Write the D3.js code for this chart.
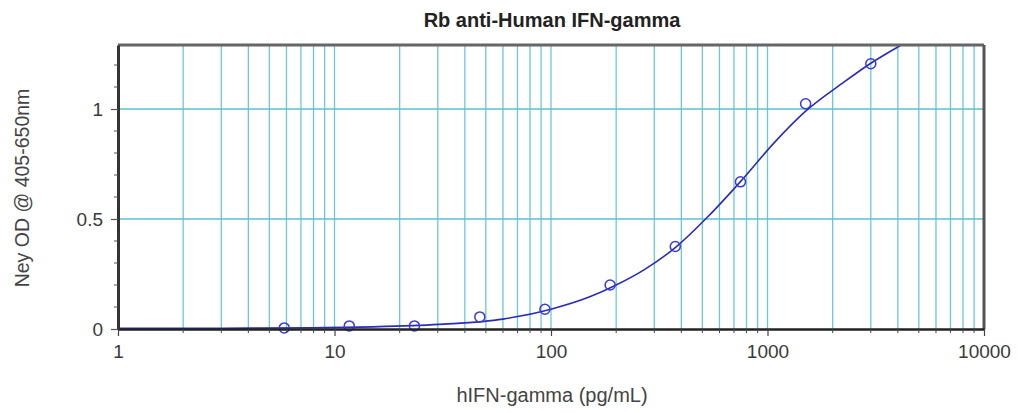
<!DOCTYPE html>
<html>
<head>
<meta charset="utf-8">
<script src="https://cdn.jsdelivr.net/npm/d3@7/dist/d3.min.js"></script>
<style>
  body { margin: 0; background: #fff; }
  text { font-family: "Liberation Sans", Arial, sans-serif; }
</style>
</head>
<body>
<div id="chart"></div>
<script>
// standard concentrations (pg/mL) and measured OD
const concentrations = [5.86, 11.7, 23.4, 46.9, 93.75, 187.5, 375, 750, 1500, 3000];
const odValues = [0.005, 0.014, 0.014, 0.055, 0.09, 0.2, 0.375, 0.669, 1.024, 1.206];

// fitted curve
const curveX = [1, 2, 4, 8, 16, 32, 60, 100, 150, 200, 270, 375, 530, 750, 1070, 1500, 2260, 3000, 4300, 6000];
const curveY = [0.003, 0.003, 0.004, 0.006, 0.011, 0.022, 0.045, 0.09, 0.145, 0.2, 0.27, 0.37, 0.51, 0.67, 0.845, 0.99, 1.123, 1.208, 1.3, 1.38];

const xTickValues = [1, 10, 100, 1000, 10000];
const yTickValues = [0, 0.5, 1];

const width = 1018, height = 413;
const margin = { left: 118, right: 34, top: 45, bottom: 84 };
const plotW = width - margin.left - margin.right;
const plotH = height - margin.top - margin.bottom;

const svg = d3.select('#chart').append('svg')
  .attr('width', width)
  .attr('height', height);

const x = d3.scaleLog().domain([1, 10000]).range([margin.left, margin.left + plotW]);
const y = d3.scaleLinear().domain([0, 1.291]).range([margin.top + plotH, margin.top]);

// all minor + major x positions for the grid
let xGrid = [];
for (let d = 1; d < 10000; d *= 10) {
  for (let k = 1; k < 10; k++) xGrid.push(d * k);
}
xGrid.push(10000);

const grid = svg.append('g').attr('class', 'grid');
grid.selectAll('line.v')
  .data(xGrid.filter(v => v > 1 && v < 10000))
  .enter().append('line')
  .attr('x1', d => x(d)).attr('x2', d => x(d))
  .attr('y1', margin.top).attr('y2', margin.top + plotH)
  .attr('stroke', '#6cc8d6')
  .attr('stroke-width', 1.3);

grid.selectAll('line.h')
  .data([0.5, 1])
  .enter().append('line')
  .attr('x1', margin.left).attr('x2', margin.left + plotW)
  .attr('y1', d => y(d)).attr('y2', d => y(d))
  .attr('stroke', '#5cc0cc')
  .attr('stroke-width', 1.5);

// curve
svg.append('clipPath').attr('id', 'clip')
  .append('rect')
  .attr('x', margin.left).attr('y', margin.top)
  .attr('width', plotW).attr('height', plotH);

const line = d3.line()
  .x((d, i) => x(curveX[i]))
  .y(d => y(d))
  .curve(d3.curveMonotoneX);

svg.append('path')
  .attr('clip-path', 'url(#clip)')
  .attr('d', line(curveY))
  .attr('fill', 'none')
  .attr('stroke', '#2b2bb8')
  .attr('stroke-width', 1.6);

// points
svg.append('g').selectAll('circle')
  .data(odValues)
  .enter().append('circle')
  .attr('cx', (d, i) => x(concentrations[i]))
  .attr('cy', d => y(d))
  .attr('r', 5)
  .attr('fill', 'none')
  .attr('stroke', '#3a3ad6')
  .attr('stroke-width', 1.5);

// frame
svg.append('line')
  .attr('x1', margin.left).attr('x2', margin.left + plotW)
  .attr('y1', margin.top).attr('y2', margin.top)
  .attr('stroke', '#666').attr('stroke-width', 3);
svg.append('line')
  .attr('x1', margin.left + plotW).attr('x2', margin.left + plotW)
  .attr('y1', margin.top).attr('y2', margin.top + plotH)
  .attr('stroke', '#555').attr('stroke-width', 3);

// axes
const xAxis = d3.axisBottom(x)
  .tickValues(xTickValues)
  .tickFormat(d3.format('d'))
  .tickSize(7)
  .tickSizeOuter(0)
  .tickPadding(9);
const gx = svg.append('g')
  .attr('transform', 'translate(0,' + (margin.top + plotH) + ')')
  .call(xAxis);
gx.select('.domain').attr('stroke', '#222').attr('stroke-width', 2.5);
gx.selectAll('.tick line').attr('stroke', '#444').attr('stroke-width', 1.2);
gx.selectAll('.tick text').attr('font-size', 19).attr('fill', '#3a3a3a')
  .attr('font-family', '"Liberation Sans", Arial, sans-serif');

// minor x ticks
gx.selectAll('line.minor')
  .data(xGrid.filter(v => xTickValues.indexOf(v) < 0))
  .enter().append('line')
  .attr('x1', d => x(d)).attr('x2', d => x(d))
  .attr('y1', 0).attr('y2', 4)
  .attr('stroke', '#444').attr('stroke-width', 1);

const yAxis = d3.axisLeft(y)
  .tickValues(yTickValues)
  .tickFormat(d => d === 0 ? '0' : d3.format('~g')(d))
  .tickSize(7)
  .tickSizeOuter(0)
  .tickPadding(8);
const gy = svg.append('g')
  .attr('transform', 'translate(' + margin.left + ',0)')
  .call(yAxis);
gy.select('.domain').attr('stroke', '#333').attr('stroke-width', 3);
gy.selectAll('.tick line').attr('stroke', '#555').attr('stroke-width', 1.2);
gy.selectAll('.tick text').attr('font-size', 19).attr('fill', '#3a3a3a')
  .attr('font-family', '"Liberation Sans", Arial, sans-serif');

// minor y ticks every 0.1
gy.selectAll('line.minor')
  .data(d3.range(1, 13).map(i => i / 10).filter(v => v !== 0.5 && v !== 1))
  .enter().append('line')
  .attr('x1', -4).attr('x2', 0)
  .attr('y1', d => y(d)).attr('y2', d => y(d))
  .attr('stroke', '#555').attr('stroke-width', 1);

// texts
svg.append('text')
  .attr('x', 552).attr('y', 27)
  .attr('text-anchor', 'middle')
  .attr('font-size', 20)
  .attr('font-weight', 'bold')
  .attr('fill', '#222')
  .text('Rb anti-Human IFN-gamma');

svg.append('text')
  .attr('x', 552).attr('y', 402)
  .attr('text-anchor', 'middle')
  .attr('font-size', 20)
  .attr('fill', '#444')
  .text('hIFN-gamma (pg/mL)');

svg.append('text')
  .attr('transform', 'translate(29,188) rotate(-90)')
  .attr('text-anchor', 'middle')
  .attr('font-size', 19.5)
  .attr('fill', '#444')
  .text('Ney OD @ 405-650nm');
</script>
</body>
</html>
